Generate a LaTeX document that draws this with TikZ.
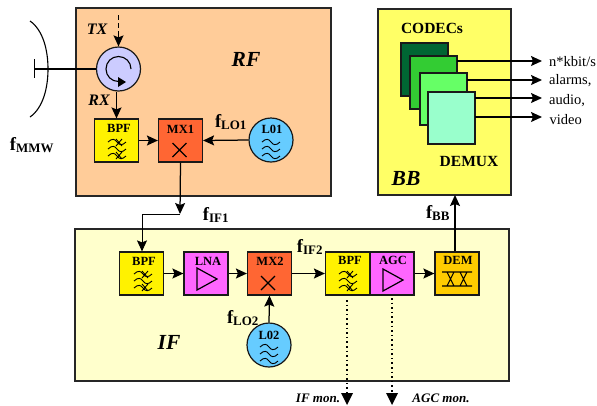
\documentclass[tikz,border=0pt]{standalone}
\usepackage{fontspec}
\setmainfont{Liberation Serif}
\usetikzlibrary{arrows.meta}
\tikzset{
 lw/.style={line width=1.2pt,draw=black!90},
 panel/.style={draw=black!85,line width=1.2pt},
 blk/.style={lw,rectangle,inner sep=0,minimum width=44pt,minimum height=43pt},
 rnd/.style={lw,circle,inner sep=0,minimum size=44pt},
 blklabel/.style={font=\bfseries\fontsize{12.5}{13}\selectfont,inner sep=0},
 boxlabel/.style={font=\bfseries\fontsize{15.5}{16}\selectfont,inner sep=0},
 sigl/.style={font=\bfseries\fontsize{18.5}{19}\selectfont,inner sep=0},
 biglabel/.style={font=\bfseries\itshape\fontsize{21.5}{22}\selectfont,inner sep=0},
 smalllabel/.style={font=\bfseries\itshape\fontsize{16}{16}\selectfont,inner sep=0},
 monlabel/.style={font=\bfseries\itshape\fontsize{13}{13}\selectfont,inner sep=0},
 outlabel/.style={font=\fontsize{14.5}{15}\selectfont,inner sep=0,anchor=west},
 arr/.style={line width=1.25pt,-{Stealth[length=11pt,width=10pt,inset=2pt]}},
 wavepic/.pic={\foreach \d in {-7,0,7} \draw[line width=.9pt] (-9pt,\d pt) .. controls (-5pt,\d pt+4pt) and (-2pt,\d pt+3pt) .. (0pt,\d pt) .. controls (2pt,\d pt-3pt) and (5pt,\d pt-4pt) .. (9pt,\d pt);},
 filtpic/.pic={\foreach \d in {-7,0,7} \draw[line width=.9pt] (-9pt,\d pt) .. controls (-5pt,\d pt+4pt) and (-2pt,\d pt+3pt) .. (0pt,\d pt) .. controls (2pt,\d pt-3pt) and (5pt,\d pt-4pt) .. (9pt,\d pt);
   \draw[line width=.9pt] (-1pt,10pt)--(5pt,3pt) (5pt,10pt)--(-1pt,3pt) (-1pt,-3pt)--(5pt,-10pt) (5pt,-3pt)--(-1pt,-10pt);},
 crosspic/.pic={\draw[line width=1.1pt] (-7pt,-7pt)--(7pt,7pt) (-7pt,7pt)--(7pt,-7pt);},
 amppic/.pic={\draw[line width=1.2pt] (-10pt,-11pt)--(-10pt,11pt)--(10pt,0pt)--cycle;},
 dempic/.pic={\draw[line width=1.1pt] (-15pt,-7pt)--(15pt,-7pt) (-15pt,7pt)--(15pt,7pt)
   (-10pt,-7pt)--(-3pt,7pt) (-3pt,-7pt)--(-10pt,7pt) (3pt,-7pt)--(10pt,7pt) (10pt,-7pt)--(3pt,7pt);},
}
\begin{document}
\begin{tikzpicture}[x=1pt,y=-1pt]
\useasboundingbox (0,0) rectangle (597,405);
% panels
\draw[panel,fill={rgb,255:red,255;green,204;blue,153}] (76,8) rectangle (331,196);
\draw[panel,fill={rgb,255:red,255;green,255;blue,102}] (378,9) rectangle (511,195);
\draw[panel,fill={rgb,255:red,255;green,255;blue,204}] (75,229) rectangle (509,381);
% antenna
\draw[line width=1.1pt] (30,21) .. controls (43,30) and (48,50) .. (48,69) .. controls (48,88) and (43,108) .. (30,117);
\draw[line width=1.1pt] (34.5,59) -- (34.5,78);
\coordinate (ant) at (34.5,69);
% RF
\node[rnd,fill={rgb,255:red,204;green,204;blue,255}] (circ) at (118.5,69) {};
\draw[line width=1.1pt] (ant) -- (circ.west);
\draw[line width=1.1pt] (131,69) .. controls (131,62) and (125.5,56.5) .. (118.5,56.5) .. controls (111.5,56.5) and (106,62) .. (106,69) .. controls (106,76) and (111.5,81.5) .. (118.5,81.5);
\fill (118,77) -- (126,82) -- (118,87) -- cycle;
\coordinate (tx) at (118.5,15);
\draw[line width=1.4pt,dash pattern=on 5pt off 3pt] (tx) -- (118.5,38);
\draw[arr] (118.5,36) -- (circ.north);
\node[smalllabel] (txl) at (97,29) {TX};
\node[smalllabel] (rxl) at (99,100) {RX};
\node[biglabel] (rfl) at (246,59) {RF};
\node[blk,fill=yellow] (bpfa) at (116.5,140.5) {};
\node[blklabel] (bpfal) at (119,128.5) {BPF};
\pic at (117,149) {filtpic};
\node[blk,fill={rgb,255:red,255;green,102;blue,51}] (mxa) at (180.5,140.5) {};
\node[blklabel] (mxal) at (180.5,129) {MX1};
\pic at (179.5,150) {crosspic};
\node[rnd,fill={rgb,255:red,102;green,204;blue,255}] (loa) at (271,140) {};
\node[blklabel] (loal) at (272,129) {L01};
\pic at (271,149) {wavepic};
\draw[arr] (bpfa.north |- circ.south) -- (bpfa.north);
\draw[arr] (bpfa.east) -- (mxa.west);
\draw[arr] (loa.west) -- (mxa.east);
\node[sigl] (fmmw) at (32,145) {f\textsubscript{MMW}};
\node[sigl] (flo1) at (231,122) {f\textsubscript{LO1}};
% BB
\draw[lw,fill={rgb,255:red,0;green,102;blue,51}] (401,43) rectangle (448,96);
\draw[lw,fill={rgb,255:red,51;green,204;blue,51}] (410,56) rectangle (457,109);
\draw[lw,fill={rgb,255:red,102;green,255;blue,102}] (420,73) rectangle (467,125);
\node[lw,rectangle,inner sep=0,minimum width=47pt,minimum height=52pt,fill={rgb,255:red,153;green,255;blue,204}] (demux) at (451.5,118) {};
\node[boxlabel] (codecs) at (432,28) {CODECs};
\node[boxlabel] (demuxl) at (469,161) {DEMUX};
\node[biglabel] (bbl) at (406,178) {BB};
\coordinate (c1) at (457,61); \coordinate (c2) at (467,80); \coordinate (c3) at (475,98); \coordinate (c4) at (475,117);
\node[outlabel] (o1) at (549,61.5) {n*kbit/s};
\node[outlabel] (o2) at (549,81) {alarms,};
\node[outlabel] (o3) at (549,100.5) {audio,};
\node[outlabel] (o4) at (549.5,120) {video};
\draw[arr] (c1) -- (542,61);
\draw[arr] (c2) -- (542,80);
\draw[arr] (c3) -- (542,98);
\draw[arr] (c4) -- (542,117);
% IF
\node[blk,fill=yellow] (bpfb) at (141.5,273.5) {};
\node[blklabel] (bpfbl) at (144,261) {BPF};
\pic at (143,281) {filtpic};
\node[blk,fill={rgb,255:red,255;green,102;blue,255}] (lna) at (206,273.5) {};
\node[blklabel] (lnal) at (208,261) {LNA};
\pic at (207,279) {amppic};
\node[blk,fill={rgb,255:red,255;green,102;blue,51}] (mxb) at (269.5,273.5) {};
\node[blklabel] (mxbl) at (270,261) {MX2};
\pic at (268,283) {crosspic};
\node[blk,fill=yellow] (bpfc) at (347.5,273.5) {};
\node[blklabel] (bpfcl) at (350,260.5) {BPF};
\pic at (348,281) {filtpic};
\node[blk,fill={rgb,255:red,255;green,102;blue,255}] (agc) at (392,273.5) {};
\node[blklabel] (agcl) at (393,260.5) {AGC};
\pic at (393,280) {amppic};
\node[blk,fill={rgb,255:red,255;green,204;blue,0}] (dem) at (457,273.5) {};
\node[blklabel] (deml) at (458,260.5) {DEM};
\pic at (457,279) {dempic};
\node[rnd,fill={rgb,255:red,102;green,204;blue,255}] (lob) at (269,345) {};
\node[blklabel] (lobl) at (269,335) {L02};
\pic at (269,354) {wavepic};
\coordinate (fold1) at (180,214);
\coordinate (fold2) at (142,214);
\draw[arr] (mxa.south) -- (fold1);
\draw[line width=1pt,-{Stealth[length=11pt,width=10pt,inset=2pt]}] (fold1) -- (fold2) -- (fold2 |- bpfb.north);
\draw[arr] (bpfb.east) -- (lna.west);
\draw[arr] (lna.east) -- (mxb.west);
\draw[arr] (mxb.east) -- (bpfc.west);
\draw[arr] (agc.east) -- (dem.west);
\draw[arr] (lob.north) -- (mxb.south);
\coordinate (bbin) at (455,195);
\draw[arr] (bbin |- dem.north) -- (bbin);
\coordinate (m1) at (347,300); \coordinate (m2) at (392,298);
\coordinate (m1e) at (347,393); \coordinate (m2e) at (392,393);
\draw[line width=1.4pt,dash pattern=on 1.6pt off 3pt] (m1) -- (m1e);
\draw[line width=1.4pt,dash pattern=on 1.6pt off 3pt] (m2) -- (m2e);
\fill (341,393) -- (353,393) -- (347,405) -- cycle;
\fill (386,393) -- (398,393) -- (392,405) -- cycle;
\node[sigl] (fif1) at (216,215) {f\textsubscript{IF1}};
\node[sigl] (fif2) at (310,247) {f\textsubscript{IF2}};
\node[sigl] (flo2) at (243,318) {f\textsubscript{LO2}};
\node[sigl] (fbb) at (438,213) {f\textsubscript{BB}};
\node[biglabel] (ifl) at (169,342) {IF};
\node[monlabel] (ifm) at (318,398) {IF mon.};
\node[monlabel] (agcm) at (441,398) {AGC mon.};
\end{tikzpicture}
\end{document}
